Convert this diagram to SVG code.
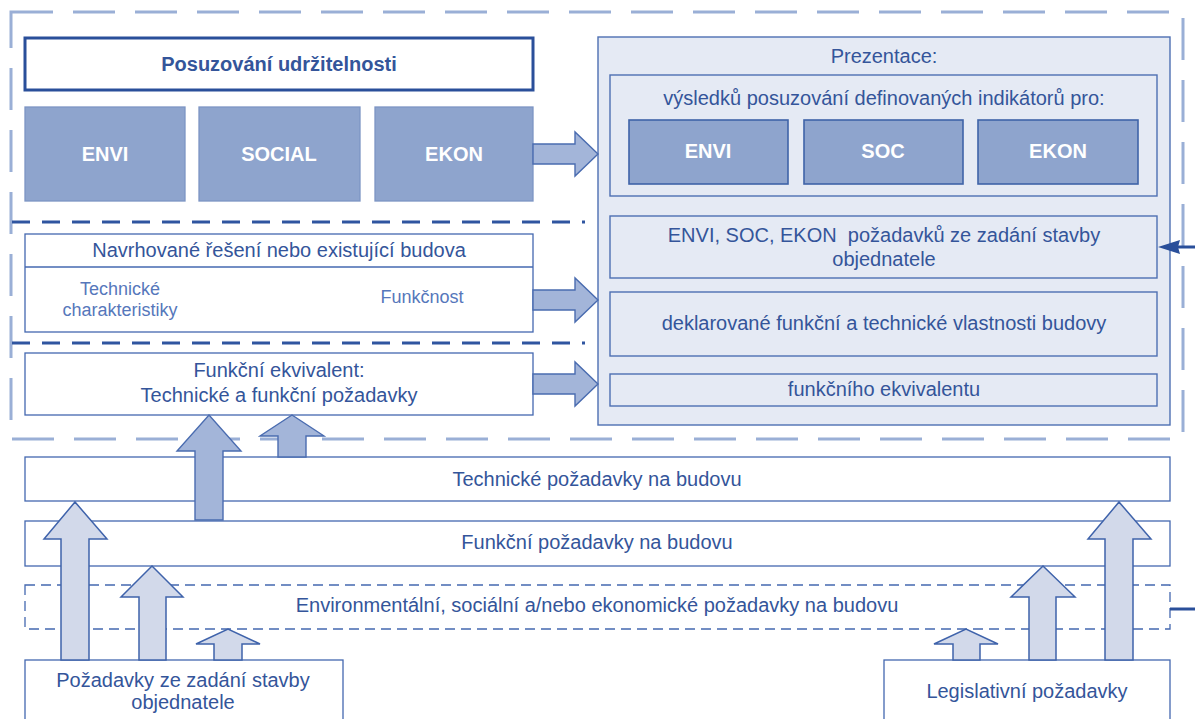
<svg xmlns="http://www.w3.org/2000/svg" width="1195" height="719" viewBox="0 0 1195 719">
<defs>
<style>
text{font-family:"Liberation Sans",Arial,sans-serif;font-size:20px;fill:#34559a;text-anchor:middle}
.b{font-weight:bold}
.w{fill:#ffffff;font-weight:bold}
.sub{font-size:18px;fill:#5677bb}
.box{fill:#ffffff;stroke:#4468b0;stroke-width:1.3}
.pbox{fill:#e5eaf4;stroke:#4e6fb2;stroke-width:1.4}
.dark{fill:#8ea4cd;stroke:#7d95c4;stroke-width:1.3}
.dark2{fill:#8ea4cd;stroke:#3f63a8;stroke-width:1.6}
.frame{fill:none;stroke:#9aafd6;stroke-width:3;stroke-dasharray:42 20}
.sep{fill:none;stroke:#2f55a0;stroke-width:3;stroke-dasharray:18 12}
.marr{fill:#a3b5d9;stroke:#4a6cb0;stroke-width:1.4}
.larr{fill:#d2d9ea;stroke:#3f63ab;stroke-width:1.5}
.conn{fill:none;stroke:#2a4f9a;stroke-width:3}
</style>
</defs>
<g id="frame">
<rect class="frame" x="11" y="12" width="1172" height="427"/>
<line class="sep" x1="12" y1="222" x2="585" y2="222"/>
<line class="sep" x1="12" y1="343" x2="585" y2="343"/>
</g>
<g id="posuzovani">
<rect x="25" y="38" width="508" height="52" fill="#ffffff" stroke="#2a4f9a" stroke-width="3"/>
<text class="b" x="279" y="71">Posuzování udržitelnosti</text>
</g>
<g id="envi"><rect class="dark" x="25" y="107" width="160" height="94"/><text class="w" x="105" y="161">ENVI</text></g>
<g id="social"><rect class="dark" x="199" y="107" width="161" height="94"/><text class="w" x="279" y="161">SOCIAL</text></g>
<g id="ekon"><rect class="dark" x="375" y="107" width="158" height="94"/><text class="w" x="454" y="161">EKON</text></g>
<g id="prezentace">
<rect class="pbox" x="598" y="37" width="572" height="388"/>
<text x="884" y="63">Prezentace:</text>
</g>
<g id="vysledku">
<rect class="pbox" x="610" y="75" width="547" height="121"/>
<text x="884" y="105">výsledků posuzování definovaných indikátorů pro:</text>
</g>
<g id="p-envi"><rect class="dark2" x="629" y="120" width="159" height="64"/><text class="w" x="708" y="158">ENVI</text></g>
<g id="p-soc"><rect class="dark2" x="804" y="120" width="159" height="64"/><text class="w" x="883" y="158">SOC</text></g>
<g id="p-ekon"><rect class="dark2" x="978" y="120" width="160" height="64"/><text class="w" x="1058" y="158">EKON</text></g>
<g id="p-pozadavky">
<rect class="pbox" x="610" y="216" width="547" height="62"/>
<text x="884" y="242" xml:space="preserve">ENVI, SOC, EKON  požadavků ze zadání stavby</text>
<text x="884" y="266">objednatele</text>
</g>
<g id="p-deklarovane">
<rect class="pbox" x="610" y="292" width="547" height="64"/>
<text x="884" y="330">deklarované funkční a technické vlastnosti budovy</text>
</g>
<g id="p-ekvivalent">
<rect class="pbox" x="610" y="374" width="547" height="32"/>
<text x="884" y="396">funkčního ekvivalentu</text>
</g>
<g id="navrhovane">
<rect class="box" x="25" y="234" width="508" height="98"/>
<line x1="25" y1="267" x2="533" y2="267" stroke="#4468b0" stroke-width="1.3"/>
<text x="279" y="257">Navrhované řešení nebo existující budova</text>
<text class="sub" x="120" y="295">Technické</text>
<text class="sub" x="120" y="316">charakteristiky</text>
<text class="sub" x="422" y="303">Funkčnost</text>
</g>
<g id="ekvivalent">
<rect class="box" x="25" y="353" width="508" height="62"/>
<text x="279" y="377">Funkční ekvivalent:</text>
<text x="279" y="402">Technické a funkční požadavky</text>
</g>
<g id="technicke">
<rect class="box" x="25" y="457" width="1145" height="44"/>
<text x="597" y="486">Technické požadavky na budovu</text>
</g>
<g id="funkcni">
<rect class="box" x="25" y="521" width="1145" height="45"/>
<text x="597" y="549">Funkční požadavky na budovu</text>
</g>
<g id="environmentalni">
<rect x="25" y="585" width="1145" height="44" fill="none" stroke="#4468b0" stroke-width="1.3" stroke-dasharray="10 6"/>
<text x="597" y="612">Environmentální, sociální a/nebo ekonomické požadavky na budovu</text>
</g>
<g id="zadani">
<rect class="box" x="25" y="660" width="318" height="70"/>
<text x="183" y="687">Požadavky ze zadání stavby</text>
<text x="183" y="709">objednatele</text>
</g>
<g id="legislativni">
<rect class="box" x="884" y="660" width="286" height="70"/>
<text x="1027" y="698">Legislativní požadavky</text>
</g>
<g id="connectors">
<polygon class="marr" points="533,144 575,144 575,132 598,154 575,176 575,164 533,164"/>
<polygon class="marr" points="533,290 575,290 575,278 598,300 575,322 575,310 533,310"/>
<polygon class="marr" points="533,374 575,374 575,362 598,384 575,406 575,394 533,394"/>
<polygon class="marr" points="195,520 195,451 177,451 209,415 241,451 223,451 223,520"/>
<polygon class="marr" points="278,457 278,436 260,436 292,415 324,436 306,436 306,457"/>
<polygon class="larr" points="61,660 61,539 44,539 75,502 107,539 89,539 89,660"/>
<polygon class="larr" points="139,660 139,597 121,597 152,566 183,597 166,597 166,660"/>
<polygon class="larr" points="214,660 214,644 196,644 228,629 260,644 242,644 242,660"/>
<polygon class="larr" points="953,660 953,644 934,644 966,629 998,644 980,644 980,660"/>
<polygon class="larr" points="1029,660 1029,597 1011,597 1043,566 1075,597 1056,597 1056,660"/>
<polygon class="larr" points="1105,660 1105,539 1088,539 1119,502 1151,539 1133,539 1133,660"/>
<line class="conn" x1="1195" y1="247" x2="1176" y2="247"/>
<polygon points="1158,247 1180,240 1178,247 1180,254" fill="#2a4f9a"/>
<line class="conn" x1="1170" y1="609" x2="1195" y2="609"/>
</g>
</svg>
